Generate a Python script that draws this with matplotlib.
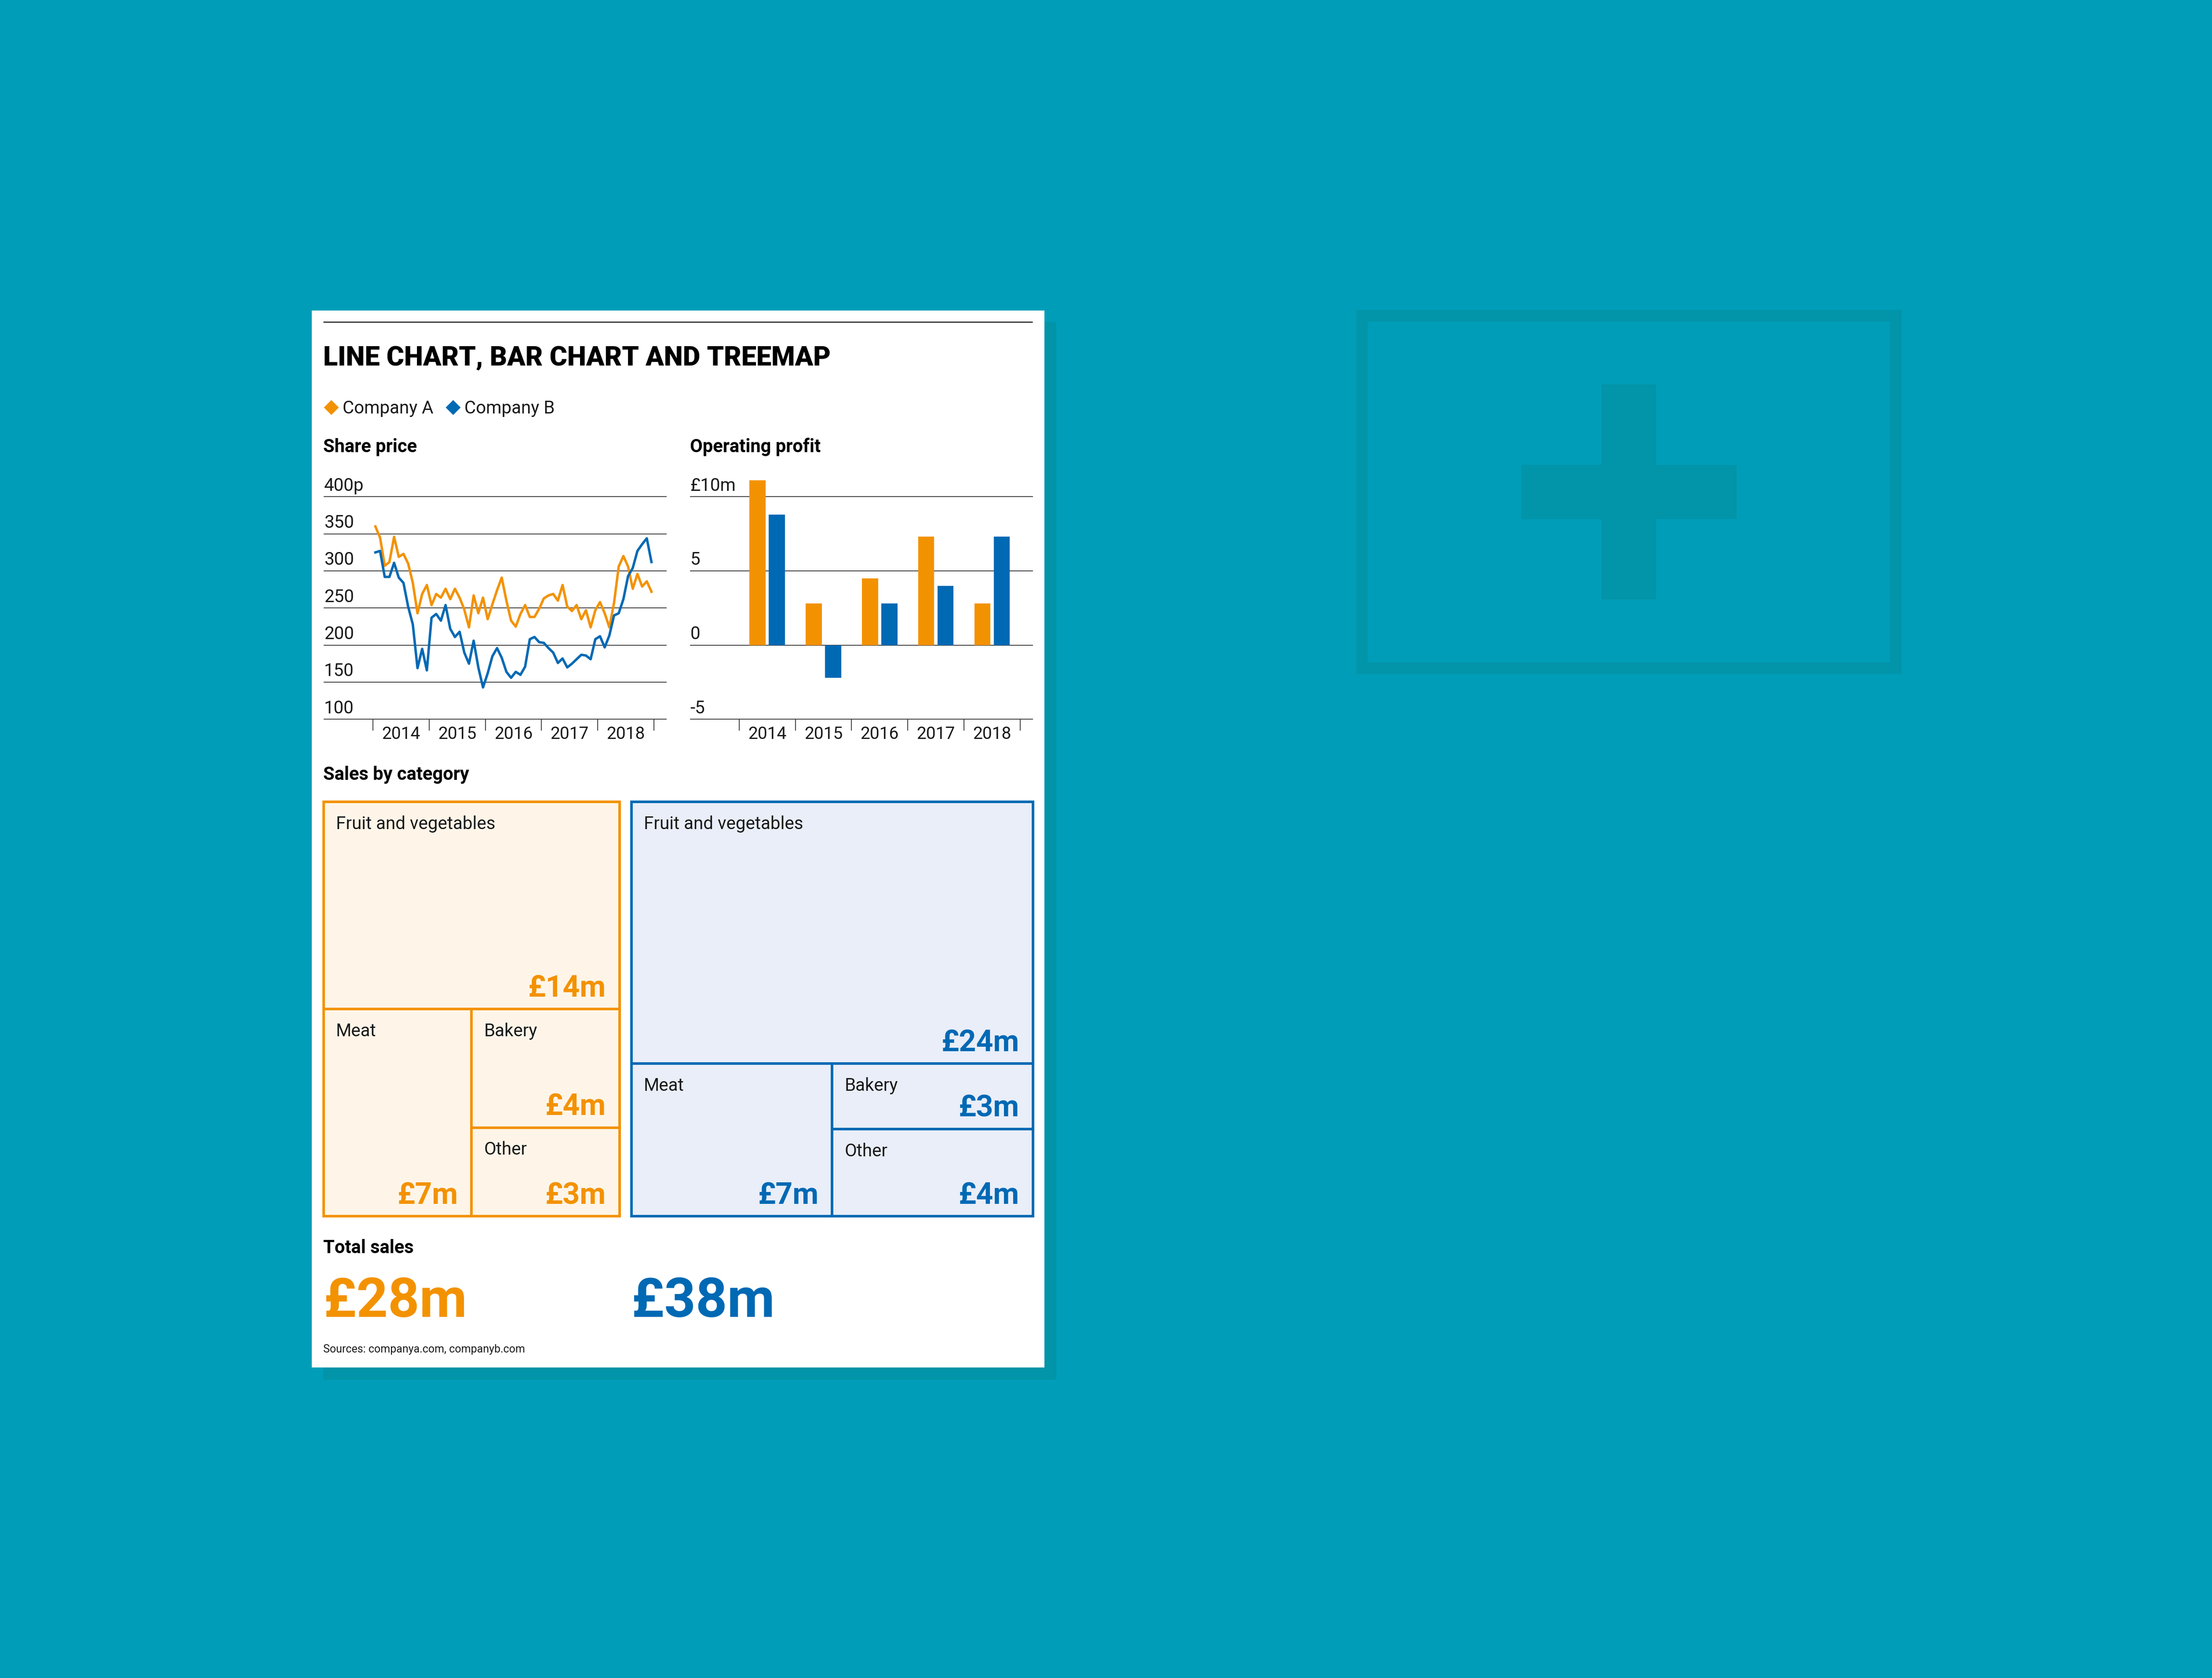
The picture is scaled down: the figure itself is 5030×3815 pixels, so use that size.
import numpy as np
import matplotlib
matplotlib.use('Agg')
import matplotlib.pyplot as plt
from matplotlib import font_manager
from matplotlib.patches import Rectangle
from matplotlib.lines import Line2D

# ---- data -------------------------------------------------------------
YEARS = [2014, 2015, 2016, 2017, 2018]

# monthly share price, Jan 2014 .. Dec 2018 (pence)
PRICE_A = [360, 345, 307, 312, 346, 319, 323, 310, 284, 243, 269, 281,
           254, 269, 264, 276, 262, 276, 264, 248, 224, 267, 243, 264,
           235, 255, 274, 291, 260, 233, 225, 242, 254, 238, 238, 249,
           263, 267, 269, 260, 281, 252, 246, 254, 235, 247, 224, 247,
           258, 243, 224, 257, 306, 320, 306, 276, 296, 279, 286, 272]
PRICE_B = [325, 327, 292, 292, 311, 291, 284, 252, 228, 169, 195, 166,
           237, 242, 233, 254, 222, 211, 218, 190, 175, 206, 170, 143,
           162, 185, 196, 183, 164, 156, 164, 160, 171, 208, 211, 204,
           203, 196, 190, 176, 182, 170, 175, 181, 187, 186, 181, 208,
           212, 197, 213, 240, 243, 262, 293, 304, 327, 336, 344, 312]
PRICE_TICKS = [100, 150, 200, 250, 300, 350, 400]
PRICE_LABELS = ['100', '150', '200', '250', '300', '350', '400p']

# operating profit (GBP m)
PROFIT_A = [11.1, 2.8, 4.5, 7.3, 2.8]
PROFIT_B = [8.8, -2.2, 2.8, 4.0, 7.3]
PROFIT_TICKS = [-5, 0, 5, 10]
PROFIT_LABELS = ['-5', '0', '5', '£10m']

# sales by category (GBP m): fruit & veg, meat, bakery, other
CATEGORIES = ['Fruit and vegetables', 'Meat', 'Bakery', 'Other']
SALES_A = [14, 7, 4, 3]
SALES_B = [24, 7, 3, 4]

ORANGE = '#F39200'
BLUE = '#0069B4'
FILL_A = '#FEF5E8'
FILL_B = '#E9EEF8'
TEAL = '#009DB8'
DARK_TEAL = '#0294A8'
INK = '#1A1A1A'
GRID = '#333333'

# ---- fonts --------------------------------------------------------------
AVAILABLE = {f.name for f in font_manager.fontManager.ttflist}
BASE = 'Roboto' if 'Roboto' in AVAILABLE else 'DejaVu Sans'
plt.rcParams['font.family'] = [BASE, 'DejaVu Sans']

# reference layout is measured on a 1568 x 1189 grid
W, H = 1568, 1189
PX = 5030 / W * 72 / 100      # points per reference pixel


def fx(x):
    return x / W


def fy(y):
    return 1 - y / H


def box(x0, y0, x1, y1):
    return [fx(x0), fy(y1), (x1 - x0) / W, (y1 - y0) / H]


fig = plt.figure(figsize=(50.3, 38.15), dpi=100, facecolor=TEAL)

bg = fig.add_axes([0, 0, 1, 1], zorder=0)
bg.set_xlim(0, W)
bg.set_ylim(H, 0)
bg.axis('off')

# decorative icon on the right
bg.add_patch(Rectangle((965.5, 223.8), 378.4, 249.6, fill=False,
                       ec=DARK_TEAL, lw=8 * PX))
bg.add_patch(Rectangle((1135.2, 272.4), 38.8, 152.4, color=DARK_TEAL, lw=0))
bg.add_patch(Rectangle((1078.3, 329.3), 152.7, 38.5, color=DARK_TEAL, lw=0))

# card with shadow
bg.add_patch(Rectangle((229, 228), 519.7, 749.6, color=DARK_TEAL, lw=0))
bg.add_patch(Rectangle((221, 220), 519.3, 749, color='white', lw=0))
bg.plot([229, 732], [228, 228], color='#444444', lw=2.2, solid_capstyle='butt')

bg.text(229, 259, 'LINE CHART, BAR CHART AND TREEMAP', fontsize=44,
        fontweight='black', color='black', va='baseline', ha='left')

handles = [Line2D([], [], ls='none', marker='D', ms=17, color=ORANGE, mec='none'),
           Line2D([], [], ls='none', marker='D', ms=17, color=BLUE, mec='none')]
fig.legend(handles, ['Company A', 'Company B'], loc='center left',
           bbox_to_anchor=(fx(231), fy(289.5)), ncol=2, frameon=False,
           fontsize=29, handlelength=0.6, handletextpad=0.35,
           columnspacing=0.8, borderpad=0, borderaxespad=0, labelcolor=INK)

for x, y, s in [(229, 320.5, 'Share price'), (489, 320.5, 'Operating profit'),
                (229, 552.5, 'Sales by category'), (229, 888, 'Total sales')]:
    bg.text(x, y, s, fontsize=30, fontweight='bold', color='black',
            va='baseline', ha='left')


def style_axis(ax, ticks, labels):
    ax.set_facecolor('none')
    for s in ax.spines.values():
        s.set_visible(False)
    ax.set_yticks([])
    for v, lab in zip(ticks, labels):
        ax.axhline(v, color=GRID, lw=1.3, clip_on=False, zorder=1)
        ax.annotate(lab, xy=(0, v), xycoords=('axes fraction', 'data'),
                    xytext=(0, 4.3 * PX), textcoords='offset points',
                    fontsize=29, color=INK, ha='left', va='baseline')
    edges = YEARS + [YEARS[-1] + 1]
    ax.set_xticks(edges)
    ax.set_xticklabels([])
    ax.tick_params(axis='x', length=8 * PX, width=1.3, color=GRID,
                   direction='out')
    ax.set_xlim(YEARS[0] - 0.87, YEARS[-1] + 1.222)
    for yr in YEARS:
        ax.annotate(str(yr), xy=(yr + 0.5, 0), xycoords=('data', 'axes fraction'),
                    xytext=(0, -14.0 * PX), textcoords='offset points',
                    fontsize=28, color=INK, ha='center', va='baseline')


# ---- share price line chart ---------------------------------------------
ax1 = fig.add_axes(box(229.8, 352, 472.3, 509.7), zorder=2)
months = YEARS[0] + (np.arange(len(PRICE_A)) + 0.5) / 12
ax1.plot(months, PRICE_A, color=ORANGE, lw=4.0, zorder=3, clip_on=False)
ax1.plot(months, PRICE_B, color=BLUE, lw=4.0, zorder=3, clip_on=False)
ax1.set_ylim(100, 400)
style_axis(ax1, PRICE_TICKS, PRICE_LABELS)

# ---- operating profit bar chart ------------------------------------------
ax2 = fig.add_axes(box(489.3, 352, 732.0, 509.7), zorder=2)
yrs = np.array(YEARS) + 0.5
ax2.bar(yrs - 0.172, PROFIT_A, width=0.287, color=ORANGE, zorder=2,
        clip_on=False)
ax2.bar(yrs + 0.172, PROFIT_B, width=0.287, color=BLUE, zorder=2,
        clip_on=False)
ax2.set_ylim(-5, 10)
style_axis(ax2, PROFIT_TICKS, PROFIT_LABELS)

# ---- treemaps --------------------------------------------------------------
left, right, gap = 229.4, 732.1, 8.4
tot_a, tot_b = sum(SALES_A), sum(SALES_B)
wa = (right - left - gap) * tot_a / (tot_a + tot_b)


def treemap(ax, values, edge, fill):
    ax.set_xlim(0, 1)
    ax.set_ylim(0, 1)
    ax.axis('off')
    total = sum(values)
    big, meat, bakery, other = values
    low = 1 - big / total
    split = meat / (meat + bakery + other)
    mid = low * other / (bakery + other)
    cells = [(0, low, 1, 1), (0, 0, split, low),
             (split, mid, 1, low), (split, 0, 1, mid)]
    for (x0, y0, x1, y1), name, v in zip(cells, CATEGORIES, values):
        ax.add_patch(Rectangle((x0, y0), x1 - x0, y1 - y0, fc=fill, ec=edge,
                               lw=4.2, clip_on=False))
        ax.annotate(name, xy=(x0, y1), xycoords='axes fraction',
                    xytext=(8.8 * PX, -9.5 * PX), textcoords='offset points',
                    fontsize=29, color=INK, ha='left', va='top')
        ax.annotate(f'£{v}m', xy=(x1, y0), xycoords='axes fraction',
                    xytext=(-9.5 * PX, 8.8 * PX), textcoords='offset points',
                    fontsize=49, fontweight='bold', color=edge,
                    ha='right', va='baseline')


axa = fig.add_axes(box(left, 568.2, left + wa, 861.9), zorder=2)
treemap(axa, SALES_A, ORANGE, FILL_A)
axb = fig.add_axes(box(left + wa + gap, 568.2, right, 861.9), zorder=2)
treemap(axb, SALES_B, BLUE, FILL_B)

# ---- totals ------------------------------------------------------------------
bg.text(left, 933, f'£{tot_a}m', fontsize=90, fontweight='bold', color=ORANGE,
        va='baseline', ha='left')
bg.text(left + wa + gap, 933, f'£{tot_b}m', fontsize=90, fontweight='bold',
        color=BLUE, va='baseline', ha='left')
bg.text(229, 958.5, 'Sources: companya.com, companyb.com', fontsize=18,
        color=INK, va='baseline', ha='left')

fig.savefig('out.png', dpi=100, facecolor=TEAL)
